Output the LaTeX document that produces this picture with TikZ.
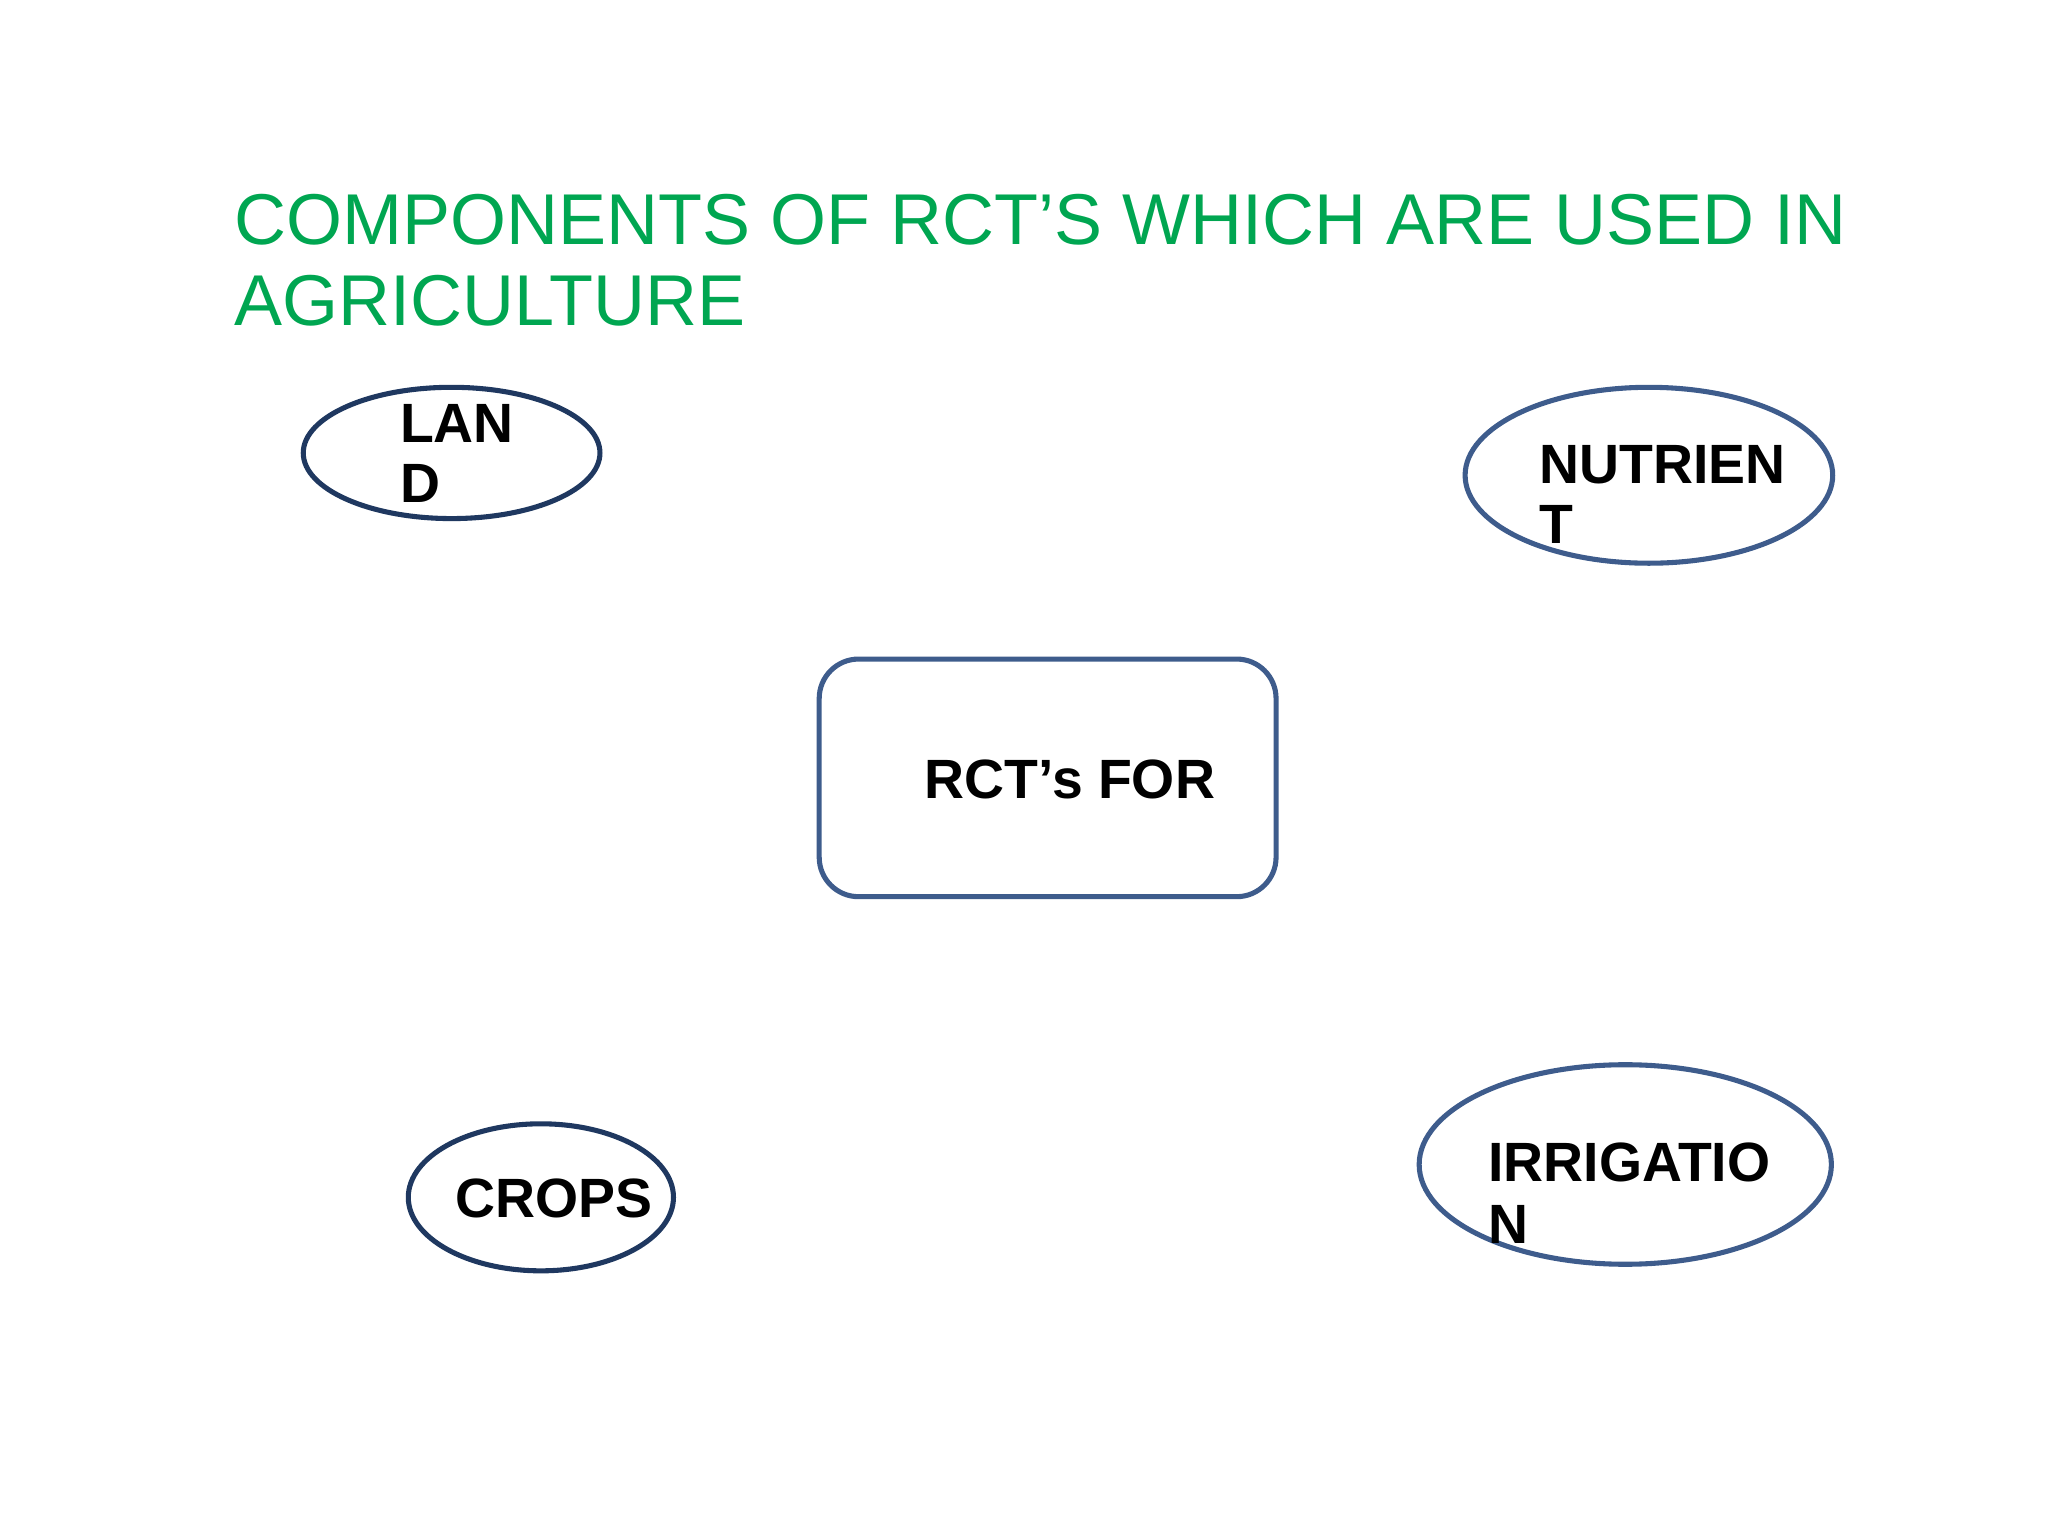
\documentclass[tikz,border=0pt]{standalone}
\usepackage{fontspec}
\setmainfont{Liberation Sans}
\usetikzlibrary{shapes.geometric}
\definecolor{tgreen}{RGB}{0,166,81}
\definecolor{navyA}{RGB}{31,56,96}
\definecolor{navyB}{RGB}{62,92,140}
\tikzset{
  lbl/.style={font=\fontsize{12pt}{13.2pt}\selectfont\bfseries, inner sep=0pt},
  ttl/.style={font=\fontsize{15.6pt}{17.6pt}\selectfont, text=tgreen, inner sep=0pt, anchor=base west},
  ell/.style={ellipse, draw, line width=1.1pt, inner sep=0pt}
}
\begin{document}
\begin{tikzpicture}[x=0.1mm,y=-0.1mm]
\useasboundingbox (0,0) rectangle (1560,1170);
\node[ttl] (t1) at (178,186) {COMPONENTS OF RCT’S WHICH ARE USED IN};
\node[ttl] (t2) at (178,248) {AGRICULTURE};
\node[ell, draw=navyA, minimum width=226\pgflinewidth*0+6.43cm*0+22.6mm, minimum height=10mm] (land) at (344,345) {};
\node[lbl, anchor=base west] (l1) at (304,337) {LAN};
\node[lbl, anchor=base west] (l2) at (304,383) {D};
\node[ell, draw=navyB, minimum width=28mm, minimum height=13.4mm] (nut) at (1256,362) {};
\node[lbl, anchor=base west] (n1) at (1172,368) {NUTRIEN};
\node[lbl, anchor=base west] (n2) at (1172,414) {T};
\draw[navyB, line width=1.1pt, rounded corners=3mm] (624,502) rectangle (972,683);
\node[lbl] (rct) at (815,594) {RCT’s FOR};
\node[ell, draw=navyA, minimum width=20.2mm, minimum height=11.2mm] (crops) at (412,912) {};
\node[lbl] (c1) at (422,913) {CROPS};
\node[ell, draw=navyB, minimum width=31.4mm, minimum height=15.2mm] (irr) at (1238,887) {};
\node[lbl, anchor=base west] (i1) at (1133,900) {IRRIGATIO};
\node[lbl, anchor=base west] (i2) at (1133,947) {N};
\end{tikzpicture}
\end{document}
